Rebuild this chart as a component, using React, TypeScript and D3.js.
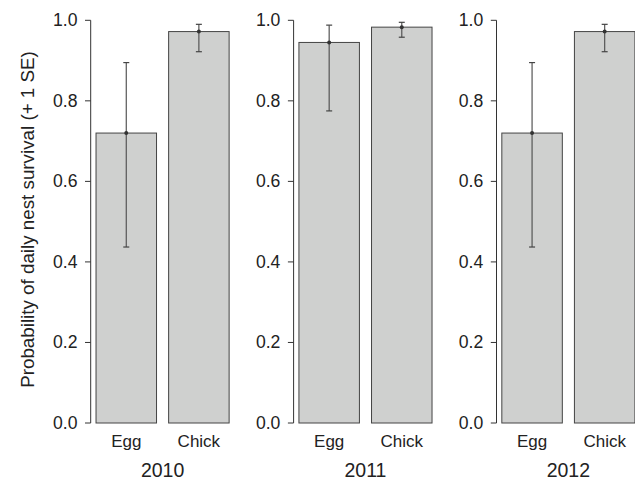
import React from "react";
import * as d3 from "d3";

const years = ["2010", "2011", "2012"];
const stages = ["Egg", "Chick"];
// estimates per year: [Egg, Chick]
const estimates = [
  [0.72, 0.972],
  [0.945, 0.983],
  [0.72, 0.972],
];
const upperSE = [
  [0.895, 0.99],
  [0.988, 0.995],
  [0.895, 0.99],
];
const lowerSE = [
  [0.437, 0.922],
  [0.775, 0.958],
  [0.437, 0.922],
];
const yTicks = [0, 0.2, 0.4, 0.6, 0.8, 1.0];

const W = 635;
const H = 482;
const axisX0 = 90.7;
const panelStep = 202.9;
const unit = 60.5;
const yTop = 20.3;
const yBottom = 423;

export default function App() {
  const y = d3.scaleLinear().domain([0, 1]).range([yBottom, yTop]);
  const font = "'Liberation Sans', Arial, Helvetica, sans-serif";
  return (
    <svg width={W} height={H} style={{ position: "absolute", left: 0, top: 0 }}>
      <rect width={W} height={H} fill="#fff" />
      <text
        transform={`translate(${27}, ${219.5}) rotate(-90)`}
        textAnchor="middle"
        dominantBaseline="central"
        fontFamily={font}
        fontSize={18.8}
        fill="#222"
      >
        Probability of daily nest survival (+ 1 SE)
      </text>
      {years.map((yr, pi) => {
        const ax = axisX0 + pi * panelStep;
        const x = d3
          .scaleLinear()
          .domain([0.112, 2.488])
          .range([ax, ax + 2.376 * unit]);
        return (
          <g key={yr}>
            <line x1={ax} x2={ax} y1={y(0)} y2={y(1)} stroke="#333" strokeWidth={1} />
            {yTicks.map((t) => (
              <g key={t}>
                <line x1={ax - 5.7} x2={ax} y1={y(t)} y2={y(t)} stroke="#333" strokeWidth={1} />
                <text
                  x={ax - 13.2}
                  y={y(t)}
                  textAnchor="end"
                  dominantBaseline="central"
                  fontFamily={font}
                  fontSize={17.6}
                  fill="#222"
                >
                  {t.toFixed(1)}
                </text>
              </g>
            ))}
            {stages.map((s, si) => {
              const left = 0.2 + si * 1.2;
              const cx = x(left + 0.5);
              const v = estimates[pi][si];
              return (
                <g key={s}>
                  <rect
                    x={x(left)}
                    y={y(v)}
                    width={x(left + 1) - x(left)}
                    height={y(0) - y(v)}
                    fill="#cfd0cf"
                    stroke="#444"
                    strokeWidth={1}
                  />
                  <line x1={cx} x2={cx} y1={y(upperSE[pi][si])} y2={y(lowerSE[pi][si])} stroke="#555" strokeWidth={1.2} />
                  <line x1={cx - 3} x2={cx + 3} y1={y(upperSE[pi][si])} y2={y(upperSE[pi][si])} stroke="#444" strokeWidth={1.2} />
                  <line x1={cx - 3} x2={cx + 3} y1={y(lowerSE[pi][si])} y2={y(lowerSE[pi][si])} stroke="#444" strokeWidth={1.2} />
                  <circle cx={cx} cy={y(v)} r={2} fill="#333" />
                  <text
                    x={cx}
                    y={446.7}
                    textAnchor="middle"
                    fontFamily={font}
                    fontSize={17}
                    fill="#222"
                  >
                    {s}
                  </text>
                </g>
              );
            })}
            <text
              x={x(1.3)}
              y={476.5}
              textAnchor="middle"
              fontFamily={font}
              fontSize={19.5}
              fill="#222"
            >
              {yr}
            </text>
          </g>
        );
      })}
    </svg>
  );
}
